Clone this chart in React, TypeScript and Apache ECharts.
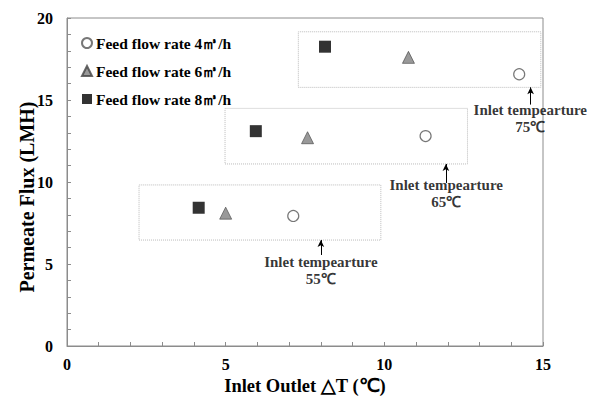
import React, { useEffect, useRef } from "react";
import * as echarts from "echarts";

const seriesNames = ["Feed flow rate 4㎥/h", "Feed flow rate 6㎥/h", "Feed flow rate 8㎥/h"];
const flow4: number[][] = [[7.13, 7.93], [11.3, 12.8], [14.25, 16.57]];
const flow6: number[][] = [[5.0, 8.1], [7.58, 12.7], [10.76, 17.6]];
const flow8: number[][] = [[4.15, 8.43], [5.95, 13.1], [8.13, 18.25]];

// dotted group boxes: [xMin, yMin, xMax, yMax]
const boxes: number[][] = [[2.27, 6.46, 9.89, 9.82], [4.98, 11.1, 12.62, 14.49], [7.29, 15.77, 14.93, 19.16]];
// arrows: [x, yFrom, yTo]
const arrows: number[][] = [[8.0, 5.55, 6.46], [11.94, 9.94, 11.1], [14.61, 14.72, 15.77]];
// annotation text anchors: [x, y]
const noteAnchors: number[][] = [[8.0, 4.63], [11.95, 9.3], [14.6, 13.9]];
const noteTexts = ["Inlet tempearture\n55℃", "Inlet tempearture\n65℃", "Inlet tempearture\n75℃"];

const xTicks = [0, 5, 10, 15];
const yTicks = [0, 5, 10, 15, 20];

const FONT = "'Liberation Serif', 'Times New Roman', serif";

export default function App() {
  const ref = useRef<HTMLDivElement>(null);
  useEffect(() => {
    if (!ref.current) return;
    const chart = echarts.init(ref.current, undefined, { renderer: "svg" });
    const axisColor = "#8c8c8c";
    const option: any = {
      animation: false,
      backgroundColor: "#ffffff",
      textStyle: { fontFamily: FONT },
      grid: {
        left: 67, right: 67, top: 18, bottom: 50,
        containLabel: false, outerBoundsMode: "none",
        show: true, borderColor: axisColor, borderWidth: 1,
      },
      legend: {
        orient: "vertical",
        left: 76,
        top: 30,
        itemGap: 12,
        itemWidth: 10,
        itemHeight: 10,
        data: seriesNames,
        textStyle: { fontFamily: FONT, fontWeight: "bold", fontSize: 15.5, color: "#000", padding: [5, 0, 0, -1] },
      },
      xAxis: {
        type: "value",
        min: xTicks[0],
        max: xTicks[xTicks.length - 1],
        interval: 5,
        name: "Inlet Outlet △T (℃)",
        nameLocation: "middle",
        nameGap: 30,
        nameMoveOverlap: false,
        nameTextStyle: { fontFamily: FONT, fontWeight: "bold", fontSize: 18.5, color: "#000" },
        axisLine: { lineStyle: { color: axisColor } },
        axisTick: { inside: true, length: 4, lineStyle: { color: axisColor } },
        minorTick: { show: true, splitNumber: 5, length: 4, lineStyle: { color: axisColor } },
        axisLabel: { fontFamily: FONT, fontWeight: "bold", fontSize: 16, color: "#000", margin: 10 },
        splitLine: { show: false },
      },
      yAxis: {
        type: "value",
        min: yTicks[0],
        max: yTicks[yTicks.length - 1],
        interval: 5,
        name: "Permeate Flux (LMH)",
        nameLocation: "middle",
        nameGap: 30,
        nameMoveOverlap: false,
        nameTextStyle: { fontFamily: FONT, fontWeight: "bold", fontSize: 20, color: "#000", padding: [0, 30, 0, 0] },
        axisLine: { show: true, lineStyle: { color: axisColor } },
        axisTick: { show: true, inside: true, length: 4, lineStyle: { color: axisColor } },
        minorTick: { show: true, splitNumber: 5, length: 4, lineStyle: { color: axisColor } },
        axisLabel: { fontFamily: FONT, fontWeight: "bold", fontSize: 16, color: "#000", margin: 14 },
        splitLine: { show: false },
      },
      series: [
        {
          name: seriesNames[0],
          type: "scatter",
          symbol: "circle",
          symbolSize: 11,
          itemStyle: { color: "#ffffff", borderColor: "#555", borderWidth: 1.2 },
          data: flow4,
          z: 5,
        },
        {
          name: seriesNames[1],
          type: "scatter",
          symbol: "triangle",
          symbolSize: 12,
          itemStyle: { color: "#808080", borderColor: "#444", borderWidth: 0.8 },
          data: flow6,
          z: 5,
        },
        {
          name: seriesNames[2],
          type: "scatter",
          symbol: "rect",
          symbolSize: 12,
          itemStyle: { color: "#000000" },
          data: flow8,
          z: 5,
        },
        {
          name: "annotations",
          type: "scatter",
          symbolSize: 0,
          silent: true,
          data: noteAnchors.map((p, i) => ({ value: p, label: { formatter: noteTexts[i] } })),
          label: {
            show: true,
            position: "inside",
            fontFamily: FONT,
            fontWeight: "bold",
            fontSize: 15,
            lineHeight: 17,
            color: "#000",
          },
          markArea: {
            silent: true,
            itemStyle: { color: "rgba(0,0,0,0)", borderColor: "#bbbbbb", borderWidth: 1, borderType: "dotted" },
            data: boxes.map((b) => [{ coord: [b[0], b[1]] }, { coord: [b[2], b[3]] }]),
          },
          markLine: {
            silent: true,
            symbol: ["none", "arrow"],
            symbolSize: [5, 7],
            label: { show: false },
            lineStyle: { color: "#000", width: 1, type: "solid" },
            data: arrows.map((a) => [{ coord: [a[0], a[1]] }, { coord: [a[0], a[2]] }]),
          },
        },
      ],
    };
    chart.setOption(option);
    return () => chart.dispose();
  }, []);
  return <div ref={ref} style={{ position: "fixed", left: 0, top: 0, width: 610, height: 396 }} />;
}
